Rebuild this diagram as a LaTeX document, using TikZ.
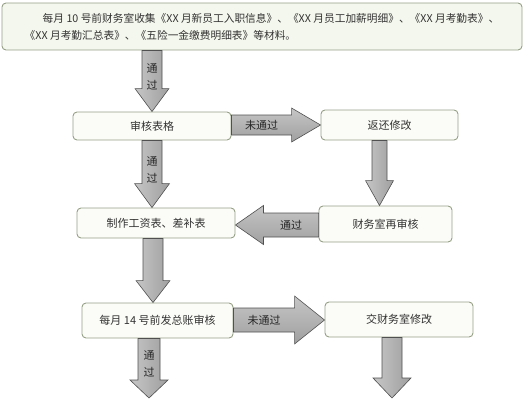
\documentclass[tikz,border=0pt]{standalone}
\usepackage{fontspec}
\setmainfont{Noto Sans CJK SC}
\usetikzlibrary{calc}

\definecolor{boxline}{RGB}{150,160,135}
\definecolor{boxfill}{RGB}{251,252,247}
\definecolor{topfill}{RGB}{244,247,237}
\definecolor{fatline}{RGB}{80,80,80}

% fat vertical arrow: from, to, x, shaft half, head half, head length, label
\newcommand{\vfat}[7]{%
  \draw[fatv] let \p1=(#1), \p2=(#2) in
    ({#3-#4},\y1) -- ({#3-#4},{\y2+#6}) -- ({#3-#5},{\y2+#6}) -- (#3,\y2)
    -- ({#3+#5},{\y2+#6}) -- ({#3+#4},{\y2+#6}) -- ({#3+#4},\y1) -- cycle
    (#3,{(\y1+\y2)/2+4}) node[fatlabel] {#7};
}
% fat horizontal arrow: from, to, y, shaft half, head half, signed head length, label
\newcommand{\hfat}[7]{%
  \draw[fath] let \p1=(#1), \p2=(#2) in
    (\x1,{#3+#4}) -- ({\x2-#6},{#3+#4}) -- ({\x2-#6},{#3+#5}) -- (\x2,#3)
    -- ({\x2-#6},{#3-#5}) -- ({\x2-#6},{#3-#4}) -- (\x1,{#3-#4}) -- cycle
    ({(\x1+\x2-#6)/2},#3) node[fatlabel] {#7};
}

\begin{document}
\begin{tikzpicture}[x=1pt,y=1pt]
    \tikzset{
      flowbox/.style={rectangle, rounded corners=4pt, draw=boxline, line width=0.9pt,
        fill=boxfill, text=black!80, font=\fontsize{11}{13}\selectfont},
      topbox/.style={flowbox, fill=topfill, minimum width=520pt, inner xsep=12pt,
        minimum height=47pt, align=left, font=\fontsize{10.7}{17}\selectfont},
      fatv/.style={draw=fatline, line width=0.6pt, left color=gray!45, right color=gray!75},
      fath/.style={draw=fatline, line width=0.6pt, top color=gray!45, bottom color=gray!75},
      fatlabel/.style={text=black!85, align=center, font=\fontsize{11}{17}\selectfont}
    }
    \useasboundingbox (0,0) rectangle (532,400);

    \node (collect) [topbox] at (262,373.5) {\hspace*{18pt}每月~10~号前财务室收集《XX~月新员工入职信息》、《XX~月员工加薪明细》、《XX~月考勤表》、\\《XX~月考勤汇总表》、《五险一金缴费明细表》等材料。};

    \node (check) [flowbox, minimum width=158pt, minimum height=28pt] at (152,274) {审核表格};
    \node (back) [flowbox, minimum width=137pt, minimum height=30pt] at (389.5,275) {返还修改};
    \node (recheck) [flowbox, minimum width=133pt, minimum height=36pt] at (385.5,176) {财务室再审核};
    \node (make) [flowbox, minimum width=158pt, minimum height=30pt] at (156,177) {制作工资表、差补表};
    \node (ledger) [flowbox, minimum width=151pt, minimum height=35pt] at (157.5,79.5) {每月 14 号前发总账审核};
    \node (redo) [flowbox, minimum width=148pt, minimum height=35pt] at (399,80.5) {交财务室修改};

    \coordinate (endleft) at (149,2);
    \coordinate (endright) at (392,2);

    \vfat{collect.south}{check.north}{152}{10}{17}{23}{通\\过}
    \vfat{check.south}{make.north}{152}{10}{17.5}{24}{通\\过}
    \vfat{make.south}{ledger.north}{153}{10}{17}{22}{}
    \vfat{ledger.south}{endleft}{149}{11}{19}{18}{通\\过}
    \vfat{back.south}{recheck.north}{379.5}{7.5}{14}{25}{}
    \vfat{redo.south}{endright}{392}{10}{19}{20}{}

    \hfat{check.east}{back.west}{275}{10}{17}{29}{未通过}
    \hfat{recheck.west}{make.east}{175}{12}{19.5}{(-28)}{通过}
    \hfat{ledger.east}{redo.west}{80}{12}{24}{30}{未通过}
\end{tikzpicture}
\end{document}
